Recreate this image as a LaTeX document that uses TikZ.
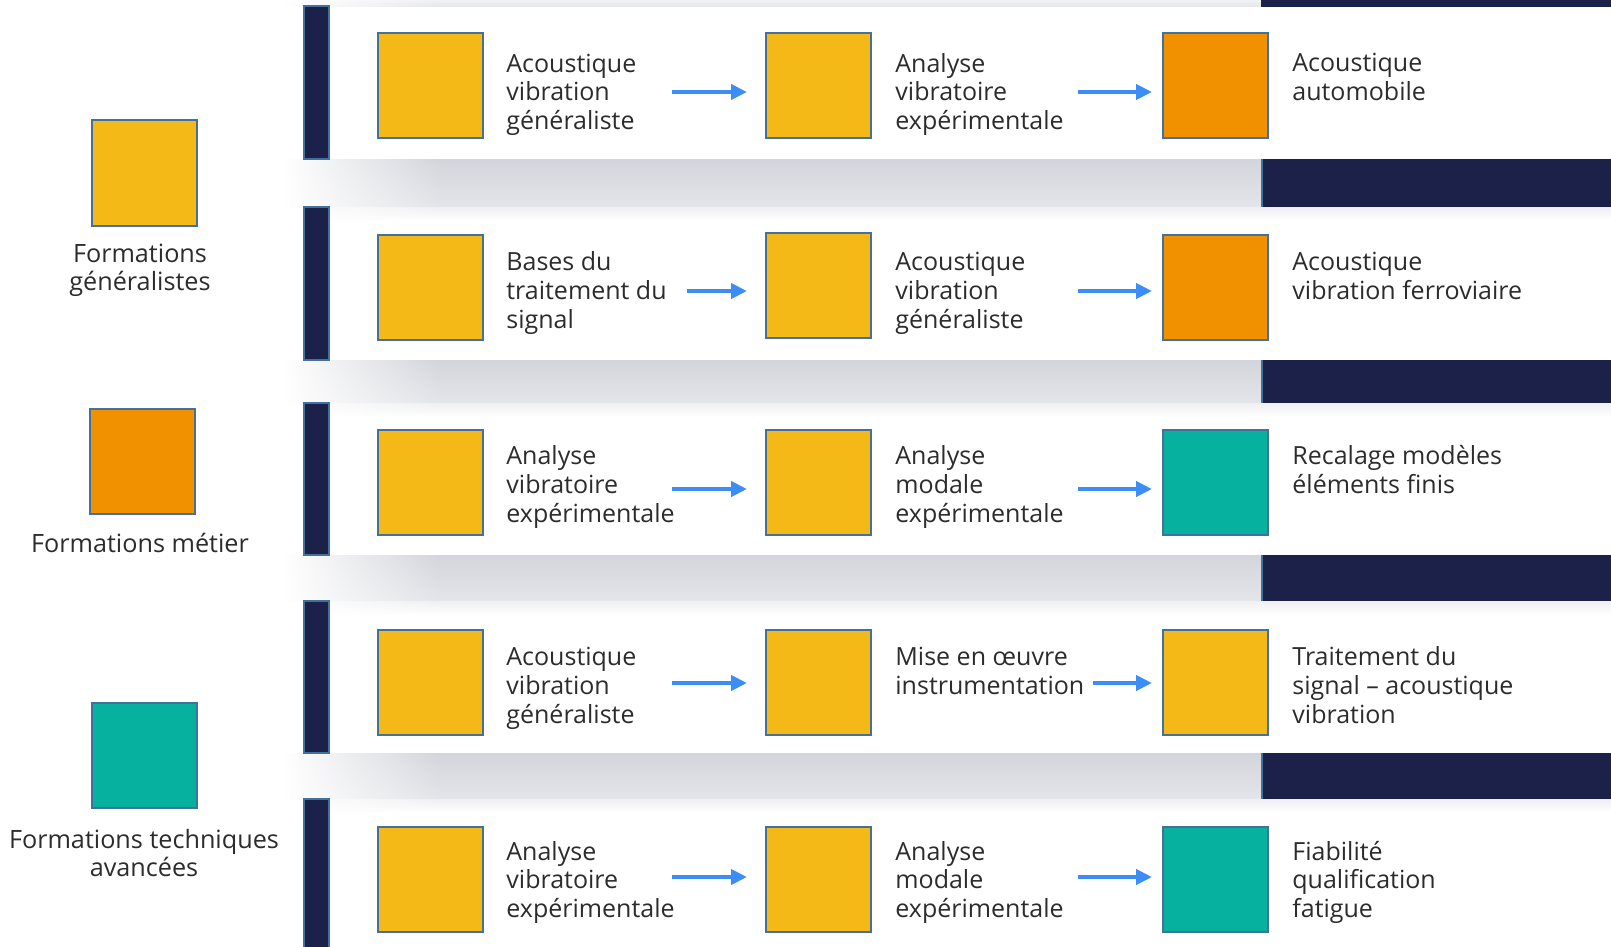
\documentclass[tikz,border=0pt]{standalone}
\usepackage{fontspec}
\setmainfont{Open Sans}
\usetikzlibrary{arrows.meta,fadings}
\definecolor{ylw}{HTML}{F4B916}
\definecolor{org}{HTML}{F19100}
\definecolor{tea}{HTML}{07B1A0}
\definecolor{bdr}{HTML}{41719C}
\definecolor{navy}{HTML}{1B2149}
\definecolor{stripT}{HTML}{D4D5DC}
\definecolor{stripB}{HTML}{E4E5E9}
\definecolor{arrc}{HTML}{3C8EF6}
\definecolor{txt}{HTML}{2C2C2C}
\tikzfading[name=fadeleft, left color=transparent!0, right color=transparent!100]
\begin{document}
\begin{tikzpicture}[x=0.5pt,y=-0.5pt,
  box/.style={draw=bdr, line width=1pt, minimum width=52.5pt, minimum height=52.5pt, inner sep=0pt},
  lbl/.style={anchor=base west, align=left, inner sep=0pt, font=\fontsize{12.5}{14.4}\selectfont, text=txt},
  leg/.style={anchor=base, align=center, inner sep=0pt, font=\fontsize{12.6}{14.4}\selectfont, text=txt},
  arr/.style={draw=arrc, line width=2pt, -{Triangle[length=8pt,width=7.5pt]}},
  bar/.style={draw=bdr, line width=0.9pt, fill=navy}]
\useasboundingbox (0,0) rectangle (1611,947);
% gray strips and right dark bars
\fill[top color=stripB!50!white, bottom color=stripB] (285,0) rectangle (1261,7);
\fill[white, path fading=fadeleft] (284,0) rectangle (440,7);
\fill[navy] (1261,0) rectangle (1611,7);
\foreach \a/\b in {159/207,360/403,555/601,753/799}{
  \fill[top color=stripT, bottom color=stripB] (285,\a) rectangle (1261,\b);
  \fill[top color=stripB!60!white, bottom color=white] (330,\b) rectangle (1611,\b+14);
  \fill[white, path fading=fadeleft] (284,\a-1) rectangle (440,\b+15);
  \fill[navy] (1261,\a) rectangle (1611,\b);
  \draw[bdr, line width=1pt] (1262,\a) -- (1262,\b);
}
% left dark bars
\foreach \a/\b in {6/159,207/360,403/555,601/753,799/952}{
  \draw[bar] (304,\a) rectangle (329,\b);
}
% legend (base anchor = baseline of the last line)
\node[box, fill=ylw] (lg1) at (144.5,173) {};
\node[leg] (lt1) at (140,290.8) {Formations\\généralistes};
\node[box, fill=org] (lg2) at (142.5,461) {};
\node[leg] (lt2) at (140,552) {Formations métier};
\node[box, fill=tea] (lg3) at (144.5,755) {};
\node[leg] (lt3) at (144,876.8) {Formations techniques\\avancées};
% row 1
\node[box, fill=ylw] (b11) at (430,86) {};
\node[box, fill=ylw] (b12) at (818.5,86) {};
\node[box, fill=org] (b13) at (1215,86) {};
\node[lbl] (t11) at (506,129.6) {Acoustique\\vibration\\généraliste};
\node[lbl] (t12) at (895,129.6) {Analyse\\vibratoire\\expérimentale};
\node[lbl] (t13) at (1292,100.8) {Acoustique\\automobile};
\coordinate (s11) at (672,92); \coordinate (e11) at (747,92);
\coordinate (s12) at (1078,92); \coordinate (e12) at (1152,92);
\draw[arr] (s11) -- (e11); \draw[arr] (s12) -- (e12);
% row 2
\node[box, fill=ylw] (b21) at (430,287) {};
\node[box, fill=ylw] (b22) at (818.5,285) {};
\node[box, fill=org] (b23) at (1215,287) {};
\node[lbl] (t21) at (506,328.1) {Bases du\\traitement du\\signal};
\node[lbl] (t22) at (895,328.1) {Acoustique\\vibration\\généraliste};
\node[lbl] (t23) at (1292,299.3) {Acoustique\\vibration ferroviaire};
\coordinate (s21) at (687,291); \coordinate (e21) at (747,291);
\coordinate (s22) at (1078,291); \coordinate (e22) at (1152,291);
\draw[arr] (s21) -- (e21); \draw[arr] (s22) -- (e22);
% row 3
\node[box, fill=ylw] (b31) at (430,482) {};
\node[box, fill=ylw] (b32) at (818.5,482) {};
\node[box, fill=tea] (b33) at (1215,482) {};
\node[lbl] (t31) at (506,522.1) {Analyse\\vibratoire\\expérimentale};
\node[lbl] (t32) at (895,522.1) {Analyse\\modale\\expérimentale};
\node[lbl] (t33) at (1292,493.3) {Recalage modèles\\éléments finis};
\coordinate (s31) at (672,489); \coordinate (e31) at (747,489);
\coordinate (s32) at (1078,489); \coordinate (e32) at (1152,489);
\draw[arr] (s31) -- (e31); \draw[arr] (s32) -- (e32);
% row 4
\node[box, fill=ylw] (b41) at (430,682) {};
\node[box, fill=ylw] (b42) at (818.5,682) {};
\node[box, fill=ylw] (b43) at (1215,682) {};
\node[lbl] (t41) at (506,723.1) {Acoustique\\vibration\\généraliste};
\node[lbl] (t42) at (895,694.3) {Mise en œuvre\\instrumentation};
\node[lbl] (t43) at (1292,723.1) {Traitement du\\signal – acoustique\\vibration};
\coordinate (s41) at (672,683); \coordinate (e41) at (747,683);
\coordinate (s42) at (1093,683); \coordinate (e42) at (1152,683);
\draw[arr] (s41) -- (e41); \draw[arr] (s42) -- (e42);
% row 5
\node[box, fill=ylw] (b51) at (430,879) {};
\node[box, fill=ylw] (b52) at (818.5,879) {};
\node[box, fill=tea] (b53) at (1215,879) {};
\node[lbl] (t51) at (506,917.6) {Analyse\\vibratoire\\expérimentale};
\node[lbl] (t52) at (895,917.6) {Analyse\\modale\\expérimentale};
\node[lbl] (t53) at (1292,917.6) {Fiabilité\\qualification\\fatigue};
\coordinate (s51) at (672,877); \coordinate (e51) at (747,877);
\coordinate (s52) at (1078,877); \coordinate (e52) at (1152,877);
\draw[arr] (s51) -- (e51); \draw[arr] (s52) -- (e52);
\end{tikzpicture}
\end{document}
